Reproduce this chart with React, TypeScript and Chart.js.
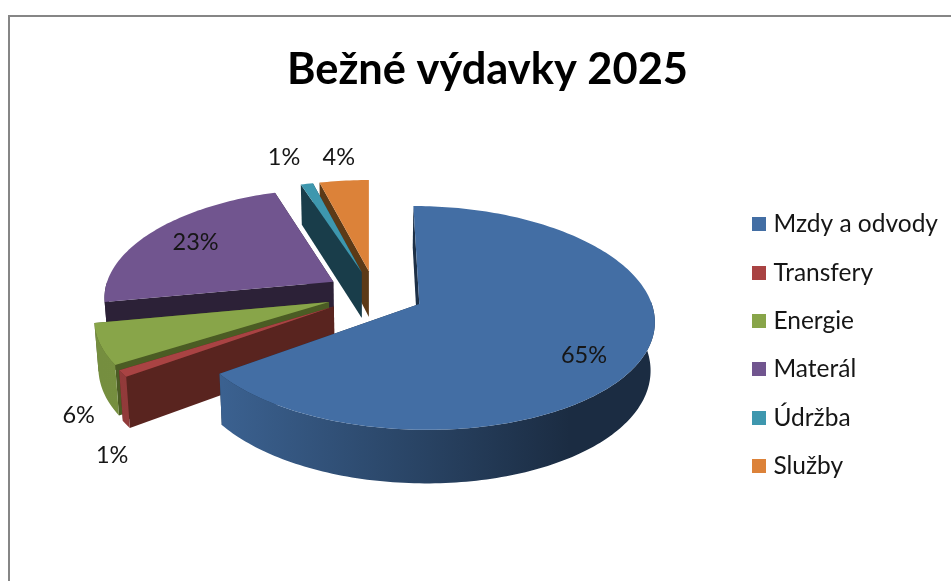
import React, { useEffect, useRef } from "react";
import { Chart, registerables } from "chart.js";

Chart.register(...registerables);

const titleText = "Bežné výdavky 2025";
const categories = ["Mzdy a odvody", "Transfery", "Energie", "Materál", "Údržba", "Služby"];
const shares = [65, 1, 6, 23, 1, 4];
const sliceColors = ["#436ea4", "#a94343", "#88a549", "#71558f", "#3e97ae", "#dc8239"];
const wallColors = ["#1d3047", "#59241f", "#4b5c24", "#2c2137", "#193d4a", "#5c3a17"];
const outerTone = [1, 1, 1, 0.45, 1, 1];

const FONT = "Lato, 'Open Sans', sans-serif";
const TEXT = "#161616";
// 3D projection of the disc
const VP_X = 369, CX_OFF = 6, CY = 293.4, R = 229.5, EXPLODE = 49, CAM = 8.1, CAM_X = 7.6, TILT = 871;
const BOTTOM_SHRINK = 0.985;
const depthAt = (z: number) => 47 + 6 * z;

// label layout: radial factor + nudge, per slice
const labelRadial = [0.7, 1.25, 1.2, 0.7, 1.25, 1.2];
const labelDx = [11, 48, 27, -9, -11, -1];
const labelDy = [15, 64, 62, -4, -7, -7];

function project(mid: number, theta: number, f: number) {
  const ex = EXPLODE * Math.sin(mid);
  const ez = -(EXPLODE * Math.cos(mid)) / R;
  const X = CX_OFF + ex + f * R * Math.sin(theta);
  const z = ez - f * Math.cos(theta);
  const w = CAM_X / (CAM_X - z);
  return { x: VP_X + X * w, y: CY + (TILT * z) / (CAM - z), z };
}
const lower = (p: { x: number; y: number; z: number }) => ({
  x: VP_X + (p.x - VP_X) * BOTTOM_SHRINK,
  y: p.y + depthAt(p.z),
  z: p.z,
});

function shade(hex: string, k: number) {
  const n = parseInt(hex.slice(1), 16);
  return `rgb(${((n >> 16) & 255) * k},${((n >> 8) & 255) * k},${(n & 255) * k})`;
}

function swatch(color: string) {
  const c = document.createElement("canvas");
  c.width = 14;
  c.height = 14;
  const g = c.getContext("2d") as CanvasRenderingContext2D;
  g.fillStyle = color;
  g.fillRect(0, 0, 14, 14);
  return c;
}

const pie3d = {
  id: "pie3d",
  beforeDatasetDraw(chart: any) {
    const { ctx } = chart;
    const arcs = chart.getDatasetMeta(0).data;
    const total = shares.reduce((a, b) => a + b, 0);
    ctx.save();
    for (let i = arcs.length - 1; i >= 0; i--) {
      const a = arcs[i];
      const t0 = a.startAngle + Math.PI / 2;
      const t1 = a.endAngle + Math.PI / 2;
      const mid = (t0 + t1) / 2;
      const apex = project(mid, 0, 0);
      const pts: any[] = [];
      const n = Math.max(2, Math.ceil((t1 - t0) / 0.02));
      for (let k = 0; k <= n; k++) pts.push(project(mid, t0 + ((t1 - t0) * k) / n, 1));

      const wall = (p: any, q: any) => {
        const ql = lower(q), pl = lower(p);
        ctx.beginPath();
        ctx.moveTo(p.x, p.y);
        ctx.lineTo(q.x, q.y);
        ctx.lineTo(ql.x, ql.y);
        ctx.lineTo(pl.x, pl.y);
        ctx.closePath();
        ctx.fillStyle = wallColors[i];
        ctx.fill();
      };
      wall(pts[n], apex);
      wall(pts[0], apex);

      // outer wall, only its part that faces the viewer
      const theta = (k: number) => t0 + ((t1 - t0) * k) / n;
      const front = pts.map((_, k) => k).filter((k) => Math.cos(theta(k)) < 0.02);
      if (front.length > 1) {
        const t = outerTone[i];
        const g = ctx.createLinearGradient(100, 0, 570, 0);
        g.addColorStop(0, shade(sliceColors[i], 0.86 * t));
        g.addColorStop(0.26, shade(sliceColors[i], 0.88 * t));
        g.addColorStop(0.7, shade(sliceColors[i], 0.6 * t));
        g.addColorStop(1, shade(sliceColors[i], 0.4 * t));
        ctx.beginPath();
        front.forEach((k, j) => (j ? ctx.lineTo(pts[k].x, pts[k].y) : ctx.moveTo(pts[k].x, pts[k].y)));
        [...front].reverse().forEach((k) => {
          const l = lower(pts[k]);
          ctx.lineTo(l.x, l.y);
        });
        ctx.closePath();
        ctx.fillStyle = g;
        ctx.fill();
      }

      // top face
      ctx.beginPath();
      ctx.moveTo(apex.x, apex.y);
      pts.forEach((p) => ctx.lineTo(p.x, p.y));
      ctx.closePath();
      ctx.fillStyle = sliceColors[i];
      ctx.fill();
    }

    // percentage labels
    ctx.font = `23.5px ${FONT}`;
    ctx.fillStyle = TEXT;
    ctx.textAlign = "center";
    ctx.textBaseline = "middle";
    arcs.forEach((a: any, i: number) => {
      const mid = (a.startAngle + a.endAngle) / 2 + Math.PI / 2;
      const p = project(mid, mid, labelRadial[i]);
      ctx.fillText(`${Math.round((shares[i] / total) * 100)}%`, p.x + labelDx[i], p.y + labelDy[i]);
    });
    ctx.restore();
    return false;
  },
};

export default function App() {
  const ref = useRef<HTMLCanvasElement>(null);
  useEffect(() => {
    const chart = new Chart(ref.current as HTMLCanvasElement, {
      type: "pie",
      data: {
        labels: categories,
        datasets: [{ data: shares, backgroundColor: sliceColors, borderWidth: 0 }],
      },
      options: {
        responsive: false,
        animation: false,
        layout: { padding: { left: 27, right: 3, top: 0, bottom: 0 } },
        plugins: {
          tooltip: { enabled: false },
          title: {
            display: true,
            text: titleText,
            color: "#000",
            font: { family: FONT, size: 43.4, weight: "bold" },
            padding: { top: 43.6, bottom: 13.8 },
          },
          legend: {
            display: true,
            position: "right",
            align: "center",
            fullSize: false,
            labels: {
              usePointStyle: true,
              pointStyleWidth: 3.5,
              boxWidth: 14,
              boxHeight: 14,
              color: TEXT,
              padding: 23.9,
              font: { family: FONT, size: 24.5 },
              generateLabels: (c: any) =>
                (Chart as any).overrides.pie.plugins.legend.labels
                  .generateLabels(c)
                  .map((item: any, i: number) => ({ ...item, pointStyle: swatch(sliceColors[i]) })),
            },
          },
        },
      },
      plugins: [pie3d as any],
    });
    return () => chart.destroy();
  }, []);
  return (
    <div style={{ position: "fixed", left: 0, top: 0, width: 951, height: 581, overflow: "hidden", background: "#fff" }}>
      <div style={{ position: "absolute", left: 8, top: 15, right: -4, bottom: -4, borderLeft: "2px solid #868686", borderTop: "2px solid #868686" }} />
      <canvas ref={ref} width={951} height={581} style={{ position: "absolute", left: 0, top: 0, display: "block" }} />
    </div>
  );
}
